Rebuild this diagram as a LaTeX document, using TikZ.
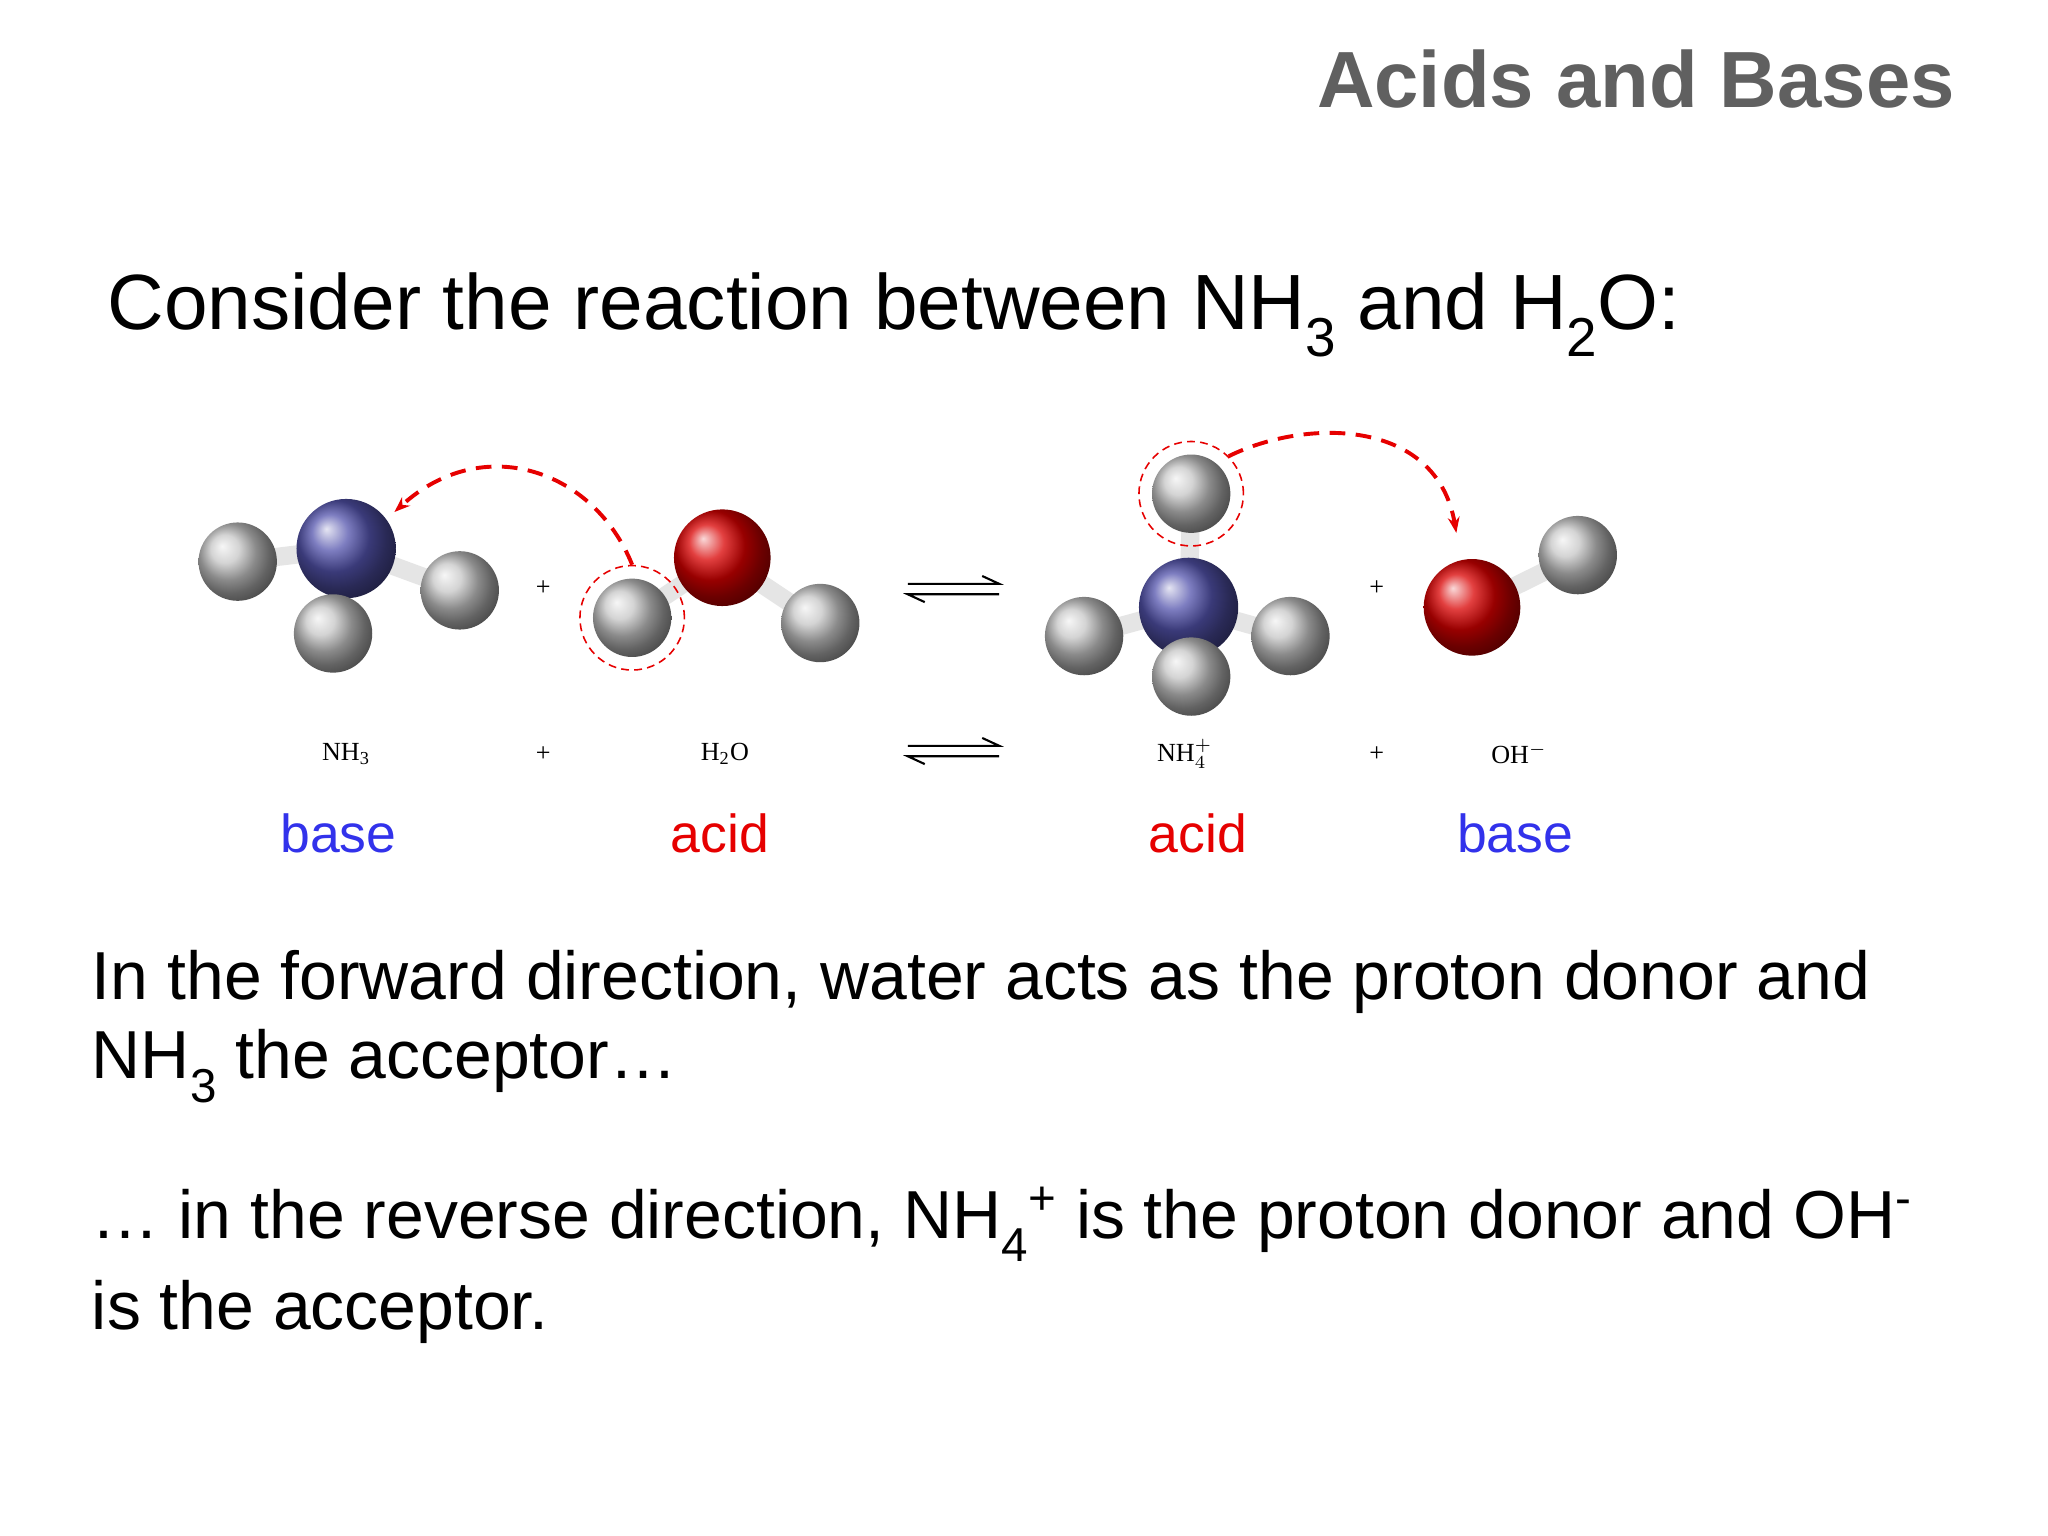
\documentclass[tikz,border=0pt]{standalone}
\usepackage{fontspec}
\setmainfont{Liberation Sans}
\newfontfamily\serifsmall{Liberation Serif}
\usetikzlibrary{arrows.meta}
\definecolor{lblue}{RGB}{50,50,235}
\definecolor{lred}{RGB}{230,0,0}
\newcommand{\lsub}[1]{\raisebox{-0.35em}{\fontsize{0.7em}{1em}\selectfont #1}}
\tikzset{
 hball/.style={circle,inner sep=0pt,minimum size=30pt,ball color=gray!45!white},
 nball/.style={circle,inner sep=0pt,minimum size=38pt,ball color=blue!35!gray},
 oball/.style={circle,inner sep=0pt,minimum size=37pt,ball color=red!85!black},
 bond/.style={line width=7pt,draw=gray!20},
 ring/.style={draw=lred,densely dashed,line width=0.6pt,circle,minimum size=40pt,inner sep=0pt},
 proton/.style={draw=lred,line width=1.5pt,dash pattern=on 6pt off 4pt,-{Stealth[length=6pt]}},
 small/.style={font=\serifsmall\fontsize{10}{12}\selectfont},
 lbl/.style={font=\fontsize{20.5}{24}\selectfont},
 body/.style={anchor=base west,inner sep=0pt,font=\fontsize{26}{31}\selectfont},
 eq/.style={line width=0.8pt}
}
\begin{document}
\begin{tikzpicture}[x=0.5pt,y=-0.5pt]
\useasboundingbox[fill=white] (0,0) rectangle (1568,1176);
\node[anchor=base east,inner sep=0pt,text=gray!75!black,font=\bfseries\fontsize{30.5}{36}\selectfont] (title) at (1497,82) {Acids and Bases};
\node[anchor=base west,inner sep=0pt,font=\fontsize{30}{36}\selectfont] (consider) at (82,252) {Consider the reaction between NH\lsub{3} and H\lsub{2}O:};
% NH3
\coordinate (n1) at (265,420);
\draw[bond] (n1) -- (182,430) (n1) -- (352,452) (n1) -- (255,485);
\node[hball] (h1) at (182,430) {};
\node[nball] (n1b) at (n1) {};
\node[hball] (h2) at (352,452) {};
\node[hball] (h3) at (255,485) {};
\node[small] (p1) at (416,450) {+};
% H2O
\coordinate (o1) at (553,427);
\draw[bond] (o1) -- (484,473) (o1) -- (628,477);
\node[hball] (h5) at (628,477) {};
\node[oball] (o1b) at (o1) {};
\node[hball] (h4) at (484,473) {};
\node[ring] (r1) at (484,473) {};
% arrows
\draw[eq] (695,447) -- (765,447) -- (752,441);
\draw[eq] (765,455) -- (695,455) -- (708,461);
% NH4+
\coordinate (n2) at (910,465);
\draw[bond] (n2) -- (912,378) (n2) -- (830,487) (n2) -- (988,487) (n2) -- (912,518);
\node[hball] (h6) at (912,378) {};
\node[ring] (r2) at (912,378) {};
\node[hball] (h7) at (830,487) {};
\node[hball] (h8) at (988,487) {};
\node[nball] (n2b) at (n2) {};
\node[hball] (h9) at (912,518) {};
\node[small] (p2) at (1054,450) {+};
% OH-
\coordinate (o2) at (1127,465);
\draw[bond] (o2) -- (1208,425);
\node[hball] (h10) at (1208,425) {};
\node[oball] (o2b) at (o2) {};
% proton arrows
\draw[proton] (r1.north) .. controls (455,360) and (370,330) .. (302,392);
\draw[proton] (r2.north east) .. controls (1000,320) and (1100,320) .. (1115,408);
% small labels
\node[small] (l1) at (265,577) {NH\textsubscript{3}};
\node[small] (l2) at (416,577) {+};
\node[small] (l3) at (555,577) {H\textsubscript{2}O};
\draw[eq] (695,571) -- (765,571) -- (752,565);
\draw[eq] (765,579) -- (695,579) -- (708,585);
\node[small] (l4) at (907,577) {NH$^{+}_{4}$};
\node[small] (l5) at (1054,577) {+};
\node[small] (l6) at (1163,577) {OH$^{-}$};
% role labels
\node[lbl,text=lblue] (b1) at (259,638) {base};
\node[lbl,text=lred] (a1) at (551,638) {acid};
\node[lbl,text=lred] (a2) at (917,638) {acid};
\node[lbl,text=lblue] (b2) at (1160,638) {base};
% body
\node[body] (t1) at (70,765) {In the forward direction, water acts as the proton donor and};
\node[body] (t2) at (70,826) {NH\lsub{3} the acceptor…};
\node[body] (t3) at (70,948) {… in the reverse direction, NH\lsub{4}\textsuperscript{+} is the proton donor and OH\textsuperscript{-}};
\node[body] (t4) at (70,1018) {is the acceptor.};
\end{tikzpicture}
\end{document}
